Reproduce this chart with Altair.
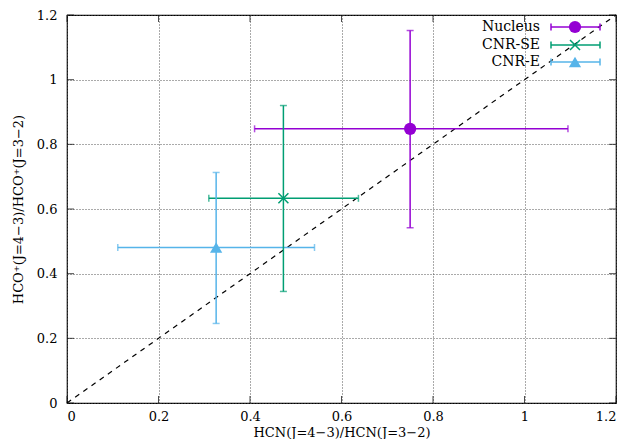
import altair as alt
import pandas as pd

series = ["Nucleus", "CNR-SE", "CNR-E"]
colors = ["#9400d3", "#009e73", "#56b4e9"]
x_val = [0.750, 0.473, 0.326]
y_val = [0.848, 0.633, 0.481]
x_lo = [0.410, 0.310, 0.111]
x_hi = [1.095, 0.637, 0.541]
y_lo = [0.542, 0.345, 0.246]
y_hi = [1.152, 0.920, 0.713]
tick_vals = [0, 0.2, 0.4, 0.6, 0.8, 1.0, 1.2]
line_vals = [0, 1.2]

FONT = "DejaVu Serif"
df = pd.DataFrame(dict(s=series, x=x_val, y=y_val, xlo=x_lo, xhi=x_hi, ylo=y_lo, yhi=y_hi))
ticks = pd.DataFrame(dict(v=tick_vals))
diag = pd.DataFrame(dict(x=line_vals, y=line_vals))

xs = alt.Scale(domain=[0, 1.2], nice=False)
ys = alt.Scale(domain=[0, 1.2], nice=False)
col = alt.Color("s:N", scale=alt.Scale(domain=series, range=colors), legend=None)
shape_scale = alt.Scale(domain=series, range=["circle", "M-1,-1L1,1M-1,1L1,-1", "triangle-up"])
shp = alt.Shape("s:N", scale=shape_scale, legend=None)

xaxis = alt.Axis(values=tick_vals, format="~g", title="HCN(J=4\u22123)/HCN(J=3\u22122)",
                 grid=True, gridColor="#555", gridDash=[1, 2], gridWidth=1,
                 domain=False, ticks=False, labelFont=FONT, labelFontSize=13, labelColor="#000",
                 labelPadding=7, titleFont=FONT, titleFontSize=13, titleFontWeight="normal",
                 titleColor="#000", titlePadding=3)
yaxis = alt.Axis(values=tick_vals, format="~g", title="HCO\u207A(J=4\u22123)/HCO\u207A(J=3\u22122)",
                 grid=True, gridColor="#555", gridDash=[1, 2], gridWidth=1,
                 domain=False, ticks=False, labelFont=FONT, labelFontSize=13, labelColor="#000",
                 labelPadding=10, titleFont=FONT, titleFontSize=13, titleFontWeight="normal",
                 titleColor="#000", titlePadding=11)

base = alt.Chart(df)
X = lambda f: alt.X(f, scale=xs)
Y = lambda f: alt.Y(f, scale=ys)

diag_line = alt.Chart(diag).mark_line(color="black", strokeDash=[5, 5], strokeWidth=1.2).encode(
    x=alt.X("x:Q", scale=xs, axis=xaxis), y=alt.Y("y:Q", scale=ys, axis=yaxis))

hbar = base.mark_rule(strokeWidth=1.5).encode(x=X("xlo:Q"), x2="xhi:Q", y=Y("y:Q"), color=col)
vbar = base.mark_rule(strokeWidth=1.5).encode(x=X("x:Q"), y=Y("ylo:Q"), y2="yhi:Q", color=col)
cap_l = base.mark_tick(orient="vertical", size=7, thickness=1.5).encode(x=X("xlo:Q"), y=Y("y:Q"), color=col)
cap_r = base.mark_tick(orient="vertical", size=7, thickness=1.5).encode(x=X("xhi:Q"), y=Y("y:Q"), color=col)
cap_b = base.mark_tick(orient="horizontal", size=7, thickness=1.5).encode(x=X("x:Q"), y=Y("ylo:Q"), color=col)
cap_t = base.mark_tick(orient="horizontal", size=7, thickness=1.5).encode(x=X("x:Q"), y=Y("yhi:Q"), color=col)

pts_fill = base.transform_filter(alt.datum.s != "CNR-SE").mark_point(filled=True, opacity=1, size=150).encode(
    x=X("x:Q"), y=Y("y:Q"), color=col, shape=shp)
pts_x = base.transform_filter(alt.datum.s == "CNR-SE").mark_point(filled=False, opacity=1, size=100, strokeWidth=1.5).encode(
    x=X("x:Q"), y=Y("y:Q"), color=col, shape=shp)

# inward ticks on all four sides
tk = alt.Chart(ticks)
tx_b = tk.mark_tick(orient="vertical", size=7, thickness=1, color="black", yOffset=-3.5).encode(
    x=X("v:Q"), y=alt.datum(0, scale=ys))
tx_t = tk.mark_tick(orient="vertical", size=7, thickness=1, color="black", yOffset=3.5).encode(
    x=X("v:Q"), y=alt.datum(1.2, scale=ys))
ty_l = tk.mark_tick(orient="horizontal", size=7, thickness=1, color="black", xOffset=3.5).encode(
    y=Y("v:Q"), x=alt.datum(0, scale=xs))
ty_r = tk.mark_tick(orient="horizontal", size=7, thickness=1, color="black", xOffset=-3.5).encode(
    y=Y("v:Q"), x=alt.datum(1.2, scale=xs))

# legend key (pixel positions inside the plot area)
legend_layers = []
leg_rows = [12, 30, 47]
for name, ly in zip(series, leg_rows):
    lb = alt.Chart(df).transform_filter(alt.datum.s == name)
    legend_layers += [
        lb.mark_text(align="right", baseline="middle", font=FONT, fontSize=14, color="black").encode(
            text="s:N", x=alt.value(473), y=alt.value(ly)),
        lb.mark_rule(strokeWidth=1.5).encode(x=alt.value(484), x2=alt.value(533), y=alt.value(ly), color=col),
        lb.mark_rule(strokeWidth=1.5).encode(x=alt.value(484), y=alt.value(ly - 3.5), y2=alt.value(ly + 3.5), color=col),
        lb.mark_rule(strokeWidth=1.5).encode(x=alt.value(533), y=alt.value(ly - 3.5), y2=alt.value(ly + 3.5), color=col),
    ]
    if name == "CNR-SE":
        legend_layers.append(lb.mark_point(filled=False, opacity=1, size=100, strokeWidth=1.5).encode(
            x=alt.value(508), y=alt.value(ly), color=col, shape=shp))
    else:
        legend_layers.append(lb.mark_point(filled=True, opacity=1, size=150).encode(
            x=alt.value(508), y=alt.value(ly), color=col, shape=shp))

chart = alt.layer(
    diag_line, tx_b, tx_t, ty_l, ty_r, hbar, vbar, cap_l, cap_r, cap_b, cap_t, pts_fill, pts_x,
    *legend_layers
).properties(
    width=549, height=388, padding={"left": 59, "top": 7, "right": 8, "bottom": 36},
    autosize=alt.AutoSizeParams(type="none"), background="white"
).configure_view(stroke="black", strokeWidth=1.2)

chart.save("out.html", embed_options={"renderer": "svg", "actions": False})
